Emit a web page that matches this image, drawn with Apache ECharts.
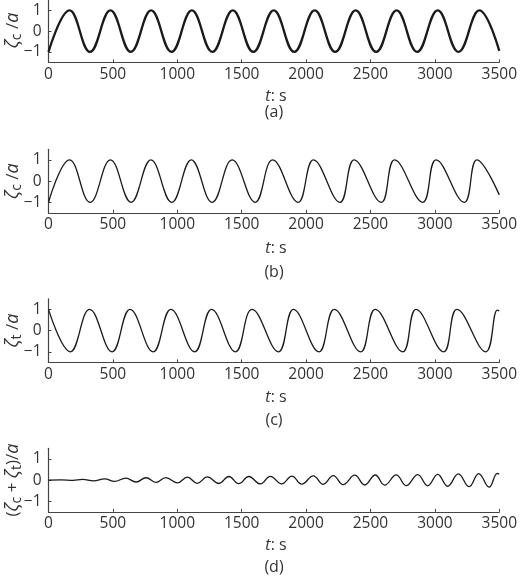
<!DOCTYPE html>
<html><head><meta charset="utf-8">
<script src="https://cdn.jsdelivr.net/npm/echarts@6/dist/echarts.min.js"></script>
<style>html,body{margin:0;padding:0;background:#fff}#c{width:520px;height:579px}</style>
</head><body><div id="c"></div>
<script>
// ---- data (extrema of each wave trace) ----
const xTicks = [0, 500, 1000, 1500, 2000, 2500, 3000, 3500];
const yTicks = [-1, 0, 1];

// (a) zeta_c / a
const tA = [0, 164, 322, 481, 639, 797, 955, 1113, 1272, 1431, 1590, 1749, 1908, 2067, 2226, 2385, 2544, 2703, 2862, 3022, 3183, 3345, 3500];
const zA = [-1, 1, -1, 1, -1, 1, -1, 1, -1, 1, -1, 1, -1, 1, -1, 1, -1, 1, -1, 1, -1, 1, -0.95];

// (b) zeta_c / a (nonlinear)
const tB = [0, 164, 323, 481, 641, 795, 957, 1109, 1271, 1426, 1605, 1740, 1938, 2057, 2263, 2373, 2584, 2687, 2906, 3009, 3228, 3326, 3500];
const zB = [-1, 1, -1, 1, -1, 1, -1, 1, -1, 1, -1, 1, -1, 1, -1, 1, -1, 1, -1, 1, -1, 1, -0.65];

// (c) zeta_t / a
const tC = [0, 170, 319, 494, 633, 813, 950, 1135, 1266, 1452, 1580, 1786, 1902, 2100, 2219, 2424, 2537, 2751, 2854, 3068, 3171, 3395, 3485, 3500];
const zC = [1, -1, 1, -1, 1, -1, 1, -1, 1, -1, 1, -1, 1, -1, 1, -1, 1, -1, 1, -1, 1, -1, 0.97, 0.93];

// (d) (zeta_c + zeta_t) / a
const tD = [0, 100, 190, 265, 350, 436, 512, 601, 680, 757, 834, 911, 1001, 1078, 1155, 1233, 1323, 1400, 1478, 1555, 1645, 1722, 1811, 1890, 1966, 2056, 2133, 2211, 2288, 2378, 2455, 2537, 2610, 2700, 2777, 2867, 2944, 3022, 3099, 3182, 3266, 3340, 3421, 3485, 3500];
const zD = [0, 0.01, -0.01, 0.03, -0.04, 0.06, -0.06, 0.09, -0.09, 0.11, -0.11, 0.12, -0.13, 0.14, -0.15, 0.15, -0.16, 0.17, -0.17, 0.17, -0.18, 0.18, -0.18, 0.19, -0.19, 0.2, -0.2, 0.21, -0.21, 0.23, -0.23, 0.24, -0.24, 0.25, -0.26, 0.26, -0.27, 0.27, -0.29, 0.29, -0.31, 0.31, -0.33, 0.32, 0.28];

const yNames = ['{i|ζ}{s|c}{n| /}{i|a}', '{i|ζ}{s|c}{n| /}{i|a}', '{i|ζ}{s|t}{n| /}{i|a}', '{n|(}{i|ζ}{s|c}{n| + }{i|ζ}{s|t}{n|)/}{i|a}'];
const captions = ['(a)', '(b)', '(c)', '(d)'];

// ---- layout ----
const FONT = 'Open Sans';
const TXT = '#333';
const AX = '#444';
const gridTops = [-1.3, 149.3, 298.8, 448.3];
const gridH = 63.6;
const nameY = [96, 248, 397, 545];
const capY = [112, 272, 420, 567];
const lineW = [2.3, 1.3, 1.3, 1.3];
const seriesData = [[tA, zA], [tB, zB], [tC, zC], [tD, zD]];

const chart = echarts.init(document.getElementById('c'), null, {renderer: 'canvas'});

const grid = gridTops.map(t => ({left: 48.5, right: 18, top: t, height: gridH}));
const xAxis = gridTops.map((t, i) => ({
  type: 'value', gridIndex: i, min: xTicks[0], max: xTicks[xTicks.length - 1], interval: 500,
  axisLine: {show: true, onZero: false, lineStyle: {color: AX, width: 1.2}},
  axisTick: {show: true, inside: true, length: 3, lineStyle: {color: AX, width: 1}},
  splitLine: {show: false},
  axisLabel: {color: TXT, fontFamily: FONT, fontSize: 15.5, margin: 4, showMinLabel: true, showMaxLabel: true, hideOverlap: false,
    formatter: v => String(v)}
}));
const yAxis = gridTops.map((t, i) => ({
  type: 'value', gridIndex: i, min: -1.5, max: 1.5,
  axisLine: {show: true, onZero: false, lineStyle: {color: AX, width: 1.2}},
  axisTick: {show: true, inside: true, length: 3, customValues: yTicks, lineStyle: {color: AX, width: 1}},
  splitLine: {show: false},
  axisLabel: {color: TXT, fontFamily: FONT, fontSize: 15.5, margin: 7, customValues: yTicks,
    formatter: v => String(v).replace('-', '\u2212')}
}));
const series = seriesData.map((d, i) => ({
  type: 'line', xAxisIndex: i, yAxisIndex: i, showSymbol: false, symbol: 'none',
  smooth: 0.42, clip: true, animation: false,
  lineStyle: {color: '#1a1a1a', width: lineW[i]},
  data: d[0].map((t, k) => [t, d[1][k]])
}));

const rich = {
  i: {fontFamily: FONT, fontSize: 18, fontStyle: 'italic', color: TXT, lineHeight: 22},
  n: {fontFamily: FONT, fontSize: 17, color: TXT, lineHeight: 22},
  s: {fontFamily: FONT, fontSize: 14, color: TXT, verticalAlign: 'bottom', lineHeight: 15},
  it: {fontFamily: FONT, fontSize: 16, fontStyle: 'italic', color: TXT},
  r: {fontFamily: FONT, fontSize: 16, color: TXT}
};
const graphic = [];
gridTops.forEach((t, i) => {
  graphic.push({type: 'text', x: 13, y: t + gridH / 2, rotation: Math.PI / 2,
    style: {text: yNames[i], rich: rich, align: 'center', verticalAlign: 'middle', fill: TXT}});
  graphic.push({type: 'text', x: 276, y: nameY[i],
    style: {text: '{it|t}{r|: s}', rich: rich, fill: TXT, align: 'center', verticalAlign: 'middle'}});
  graphic.push({type: 'text', x: 274, y: capY[i],
    style: {text: captions[i], font: '16px ' + FONT, fill: TXT, align: 'center', verticalAlign: 'middle'}});
});

chart.setOption({animation: false, backgroundColor: '#fff', grid, xAxis, yAxis, series, graphic});
</script></body></html>
